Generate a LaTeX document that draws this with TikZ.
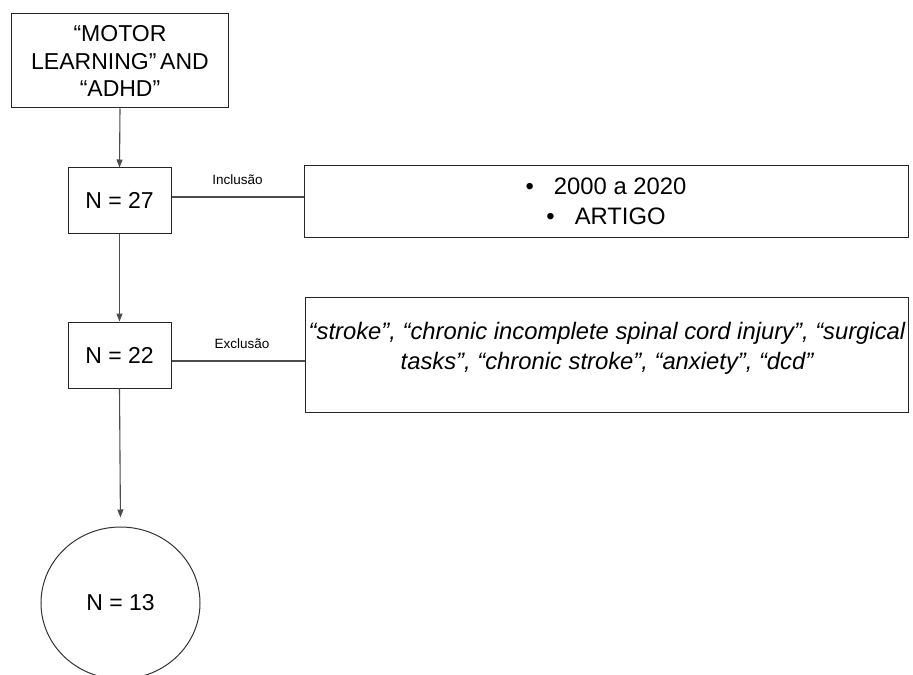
\documentclass[tikz,border=0pt]{standalone}
\usepackage{fontspec}
\setmainfont{Liberation Sans}
\usetikzlibrary{shapes.geometric,arrows.meta}
\begin{document}
\begin{tikzpicture}[x=1bp,y=-1bp,
  big/.style={font=\fontsize{23bp}{27.5bp}\selectfont},
  wide/.style={font=\fontsize{23.8bp}{29.5bp}\selectfont},
  small/.style={font=\fontsize{13.5bp}{16bp}\selectfont},
  stepbox/.style={draw=black!85,line width=1bp,rectangle,inner sep=0pt,align=center,big},
  link/.style={draw=black!70,line width=1.1bp},
  flow/.style={link,-{Triangle[length=8bp,width=6bp]}}]
\useasboundingbox (0,0) rectangle (913,675);
% boxes of the flow
\node[stepbox,minimum width=216bp,minimum height=94bp] (search) at (120,61)
  {\textquotedblleft MOTOR\\LEARNING\textquotedblright\,AND\\\textquotedblleft ADHD\textquotedblright};
\node[stepbox,minimum width=103bp,minimum height=65bp] (n27) at (119.5,200.5) {N = 27};
\node[stepbox,minimum width=103bp,minimum height=66bp] (n22) at (119.5,355) {N = 22};
\node[draw=black!80,line width=1bp,ellipse,minimum width=159bp,minimum height=152bp,inner sep=0pt,big] (n13) at (120.5,603) {N = 13};
% criteria boxes
\node[stepbox,wide,minimum width=604bp,minimum height=71bp] (inc) at (606,201.5)
  {\textbullet\hspace{20bp}2000 a 2020\\\textbullet\hspace{20bp}ARTIGO};
\node[stepbox,minimum width=603bp,minimum height=115bp] (exc) at (606.5,354.5) {};
\node[wide,align=center,inner sep=0pt,font=\fontsize{23.8bp}{30bp}\selectfont\itshape] (exctext) at (607,348)
  {\textquotedblleft stroke\textquotedblright, \textquotedblleft chronic incomplete spinal cord injury\textquotedblright, \textquotedblleft surgical\\tasks\textquotedblright, \textquotedblleft chronic stroke\textquotedblright, \textquotedblleft anxiety\textquotedblright, \textquotedblleft dcd\textquotedblright};
% connectors
\draw[flow] (search.south) -- (n27.north);
\draw[flow] (n27.south) -- (n22.north);
\draw[flow,shorten >=9bp] (n22.south) -- (n13.north);
\draw[link] ([yshift=3.5bp]n27.east) -- ([yshift=3.5bp]n27.east -| inc.west)
  node[midway,above=8bp,small] (inclabel) {Inclusão};
\draw[link] ([yshift=-6bp]n22.east) -- ([yshift=-6bp]n22.east -| exc.west)
  node[midway,above=8bp,small,xshift=4bp] (exclabel) {Exclusão};
\end{tikzpicture}
\end{document}
